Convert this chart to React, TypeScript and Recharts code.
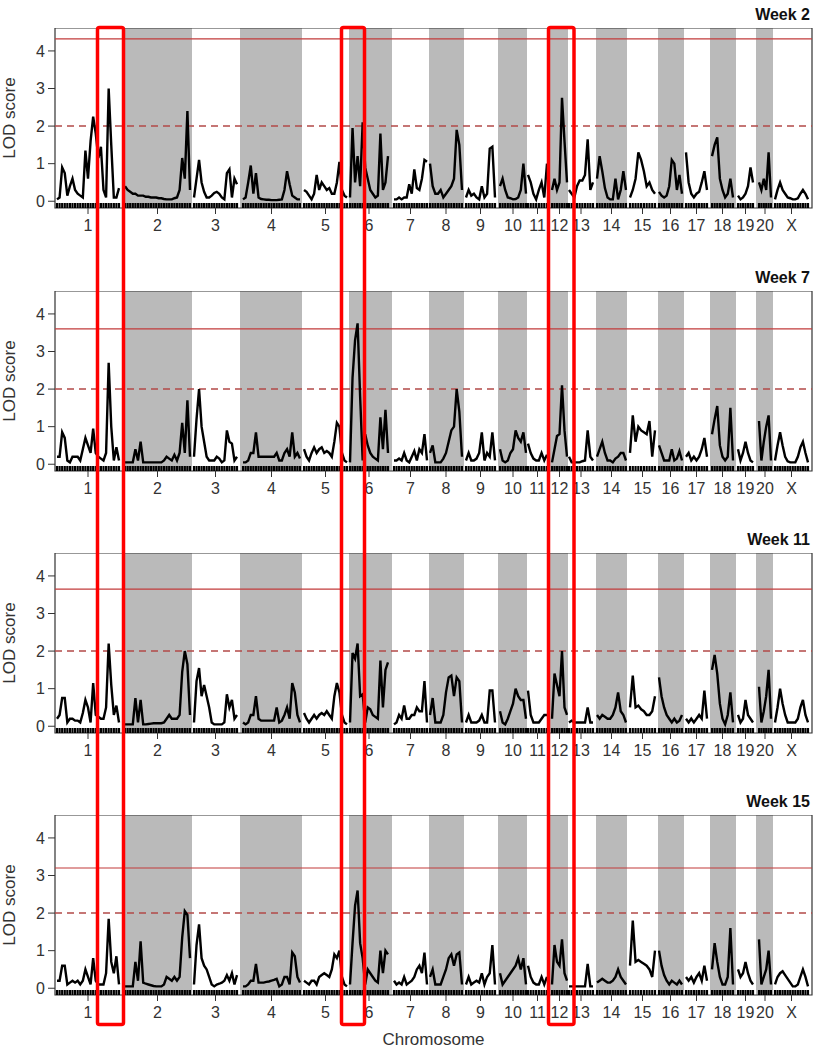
import { ComposedChart, Line, Scatter, XAxis, YAxis, ReferenceArea, ReferenceLine } from 'recharts';

// chromosome layout, in genome units (1 unit = 1 px of plot width)
const chromLabels = ['1', '2', '3', '4', '5', '6', '7', '8', '9', '10', '11', '12', '13', '14', '15', '16', '17', '18', '19', '20', 'X'];
const bandEdges = [0, 70, 137, 185, 247, 294, 337, 374, 409, 443, 472, 493, 513, 541, 572, 603, 629, 655, 681, 701, 718, 757];
const curveStart = [2, 70, 139, 188, 249, 295, 339, 375, 411, 445, 473, 497, 514, 542, 575, 604, 631, 657, 683, 704, 720];
const curveEnd = [64, 135, 182, 245, 292, 333, 372, 407, 440, 471, 492, 512, 538, 571, 600, 627, 652, 678, 698, 716, 753];

const weekTitles = ['Week 2', 'Week 7', 'Week 11', 'Week 15'];
const sigThreshold = [4.32, 3.6, 3.65, 3.2];
const suggestiveThreshold = 2;

// regions boxed in red across all panels
const highlightStart = [42.5, 286.5, 493.5];
const highlightEnd = [68.5, 309.5, 519];

// LOD scores per chromosome, evenly spaced pseudomarkers
const lodWeek2 = [
  [0.05, 0.1, 0.9, 0.75, 0.15, 0.4, 0.6, 0.3, 0.2, 0.15, 0.1, 1.35, 0.6, 1.6, 2.25, 1.8, 1.15, 1.45, 0.3, 0.1, 3.0, 1.5, 0.1, 0.1, 0.35],
  [0.4, 0.3, 0.25, 0.2, 0.2, 0.15, 0.15, 0.15, 0.12, 0.12, 0.1, 0.1, 0.1, 0.08, 0.08, 0.06, 0.05, 0.05, 0.05, 0.08, 0.1, 0.3, 1.15, 0.6, 2.4, 0.3],
  [0.1, 0.6, 1.1, 0.5, 0.25, 0.1, 0.1, 0.15, 0.22, 0.25, 0.2, 0.1, 0.05, 0.75, 0.85, 0.1, 0.6, 0.45],
  [0.05, 0.1, 0.5, 0.95, 0.2, 0.75, 0.1, 0.06, 0.05, 0.04, 0.04, 0.03, 0.03, 0.03, 0.04, 0.05, 0.3, 0.8, 0.45, 0.15, 0.1, 0.05, 0.05],
  [0.3, 0.25, 0.15, 0.05, 0.2, 0.7, 0.3, 0.5, 0.4, 0.3, 0.35, 0.2, 0.2, 0.5, 1.05, 0.3, 0.15, 0.1],
  [0.1, 1.95, 0.5, 1.2, 0.4, 2.1, 0.9, 0.6, 0.3, 0.2, 0.1, 0.15, 1.8, 0.3, 0.5, 1.2],
  [0.05, 0.05, 0.1, 0.05, 0.1, 0.1, 0.45, 0.2, 0.85, 0.35, 0.3, 0.6, 1.1, 1.05],
  [1.0, 0.4, 0.2, 0.2, 0.3, 0.1, 0.2, 0.3, 0.4, 0.6, 1.9, 1.5, 0.3],
  [0.1, 0.3, 0.15, 0.2, 0.1, 0.05, 0.4, 0.1, 0.2, 1.4, 1.45, 0.1],
  [0.4, 0.6, 0.3, 0.1, 0.08, 0.05, 0.06, 0.1, 0.3, 1.0, 0.2],
  [0.7, 0.5, 0.2, 0.05, 0.3, 0.5, 0.1, 1.0],
  [0.3, 0.6, 0.3, 0.5, 2.75, 1.6, 0.5],
  [0.3, 0.2, 0.1, 0.4, 0.55, 0.55, 0.7, 1.65, 0.3, 0.5],
  [0.6, 1.2, 0.8, 0.35, 0.1, 0.05, 0.05, 0.6, 0.05, 0.3, 0.8, 0.3],
  [0.1, 0.3, 0.6, 1.3, 1.1, 0.8, 0.4, 0.5, 0.3, 0.2],
  [0.25, 0.15, 0.1, 0.15, 0.4, 1.1, 1.0, 0.3, 0.7, 0.2],
  [1.3, 0.5, 0.2, 0.1, 0.2, 0.25, 0.5, 0.8, 0.3],
  [1.2, 1.5, 1.7, 0.6, 0.3, 0.1, 0.2, 0.6, 0.1],
  [0.15, 0.05, 0.1, 0.2, 0.4, 0.9, 0.5],
  [0.5, 0.3, 0.6, 0.3, 1.3, 0.1],
  [0.05, 0.3, 0.5, 0.3, 0.2, 0.1, 0.08, 0.05, 0.05, 0.08, 0.2, 0.3, 0.2, 0.05],
];

const lodWeek7 = [
  [0.2, 0.2, 0.85, 0.7, 0.1, 0.05, 0.2, 0.2, 0.2, 0.1, 0.4, 0.7, 0.5, 0.3, 0.95, 0.3, 0.2, 0.15, 0.1, 0.3, 2.7, 1.0, 0.1, 0.45, 0.1],
  [0.05, 0.05, 0.05, 0.05, 0.4, 0.1, 0.6, 0.05, 0.05, 0.05, 0.05, 0.05, 0.05, 0.05, 0.05, 0.1, 0.2, 0.15, 0.1, 0.25, 0.1, 0.3, 1.1, 0.3, 1.7, 0.2],
  [0.2, 1.2, 2.0, 1.0, 0.6, 0.2, 0.1, 0.1, 0.1, 0.2, 0.15, 0.05, 0.1, 0.9, 0.6, 0.55, 0.1, 0.2],
  [0.05, 0.05, 0.1, 0.3, 0.3, 0.85, 0.2, 0.2, 0.2, 0.2, 0.2, 0.2, 0.2, 0.3, 0.1, 0.1, 0.3, 0.4, 0.2, 0.85, 0.2, 0.3, 0.15],
  [0.4, 0.2, 0.1, 0.3, 0.45, 0.3, 0.4, 0.45, 0.3, 0.35, 0.3, 0.2, 0.6, 1.1, 1.0, 0.3, 0.1, 0.05],
  [0.05, 2.3, 3.3, 3.75, 1.8, 0.1, 0.8, 0.5, 0.3, 0.2, 0.15, 0.1, 1.25, 0.4, 1.45, 0.3],
  [0.1, 0.1, 0.15, 0.1, 0.3, 0.1, 0.05, 0.2, 0.35, 0.1, 0.4, 0.3, 0.8, 0.1],
  [0.3, 0.5, 0.05, 0.05, 0.05, 0.15, 0.3, 0.6, 0.9, 1.0, 2.0, 1.4, 0.2],
  [0.1, 0.3, 0.1, 0.1, 0.15, 0.3, 0.85, 0.1, 0.3, 0.2, 0.85, 0.1],
  [0.4, 0.1, 0.05, 0.1, 0.3, 0.4, 0.9, 0.7, 0.6, 0.85, 0.3],
  [0.55, 0.3, 0.15, 0.1, 0.1, 0.3, 0.1, 0.25],
  [0.05, 0.4, 0.75, 0.8, 2.1, 0.9, 0.2],
  [0.2, 0.05, 0.05, 0.05, 0.05, 0.08, 0.1, 0.9, 0.2, 0.1],
  [0.2, 0.4, 0.6, 0.3, 0.1, 0.1, 0.05, 0.15, 0.2, 0.3, 0.3, 0.1],
  [0.3, 1.3, 0.6, 1.0, 0.9, 0.85, 0.8, 1.15, 0.2, 0.9],
  [0.5, 0.3, 0.1, 0.1, 0.1, 0.4, 0.1, 0.15, 0.35, 0.1],
  [0.2, 0.3, 0.1, 0.2, 0.1, 0.2, 0.4, 0.7, 0.2],
  [0.8, 1.2, 1.55, 0.5, 0.2, 0.1, 0.2, 1.5, 0.1],
  [0.4, 0.1, 0.3, 0.6, 0.3, 0.1, 0.05],
  [1.15, 0.1, 0.6, 1.0, 1.3, 0.1],
  [0.1, 0.5, 0.85, 0.5, 0.2, 0.08, 0.05, 0.05, 0.05, 0.2, 0.45, 0.6, 0.3, 0.05],
];

const lodWeek11 = [
  [0.2, 0.3, 0.75, 0.75, 0.1, 0.2, 0.2, 0.15, 0.15, 0.1, 0.35, 0.7, 0.5, 0.1, 1.15, 0.3, 0.25, 0.2, 0.2, 0.5, 2.2, 1.1, 0.3, 0.55, 0.1],
  [0.05, 0.05, 0.05, 0.05, 0.75, 0.1, 0.7, 0.05, 0.05, 0.06, 0.07, 0.08, 0.08, 0.08, 0.08, 0.1, 0.2, 0.3, 0.2, 0.2, 0.2, 0.3, 1.45, 2.0, 1.65, 0.3],
  [0.1, 1.2, 1.55, 0.8, 1.1, 0.8, 0.5, 0.1, 0.05, 0.05, 0.05, 0.05, 0.1, 0.85, 0.5, 0.7, 0.2, 0.3],
  [0.1, 0.05, 0.1, 0.3, 0.3, 0.8, 0.2, 0.15, 0.15, 0.15, 0.15, 0.15, 0.15, 0.5, 0.1, 0.15, 0.3, 0.5, 0.2, 1.15, 0.9, 0.3, 0.1],
  [0.35, 0.2, 0.1, 0.2, 0.3, 0.2, 0.3, 0.35, 0.3, 0.4, 0.3, 0.2, 0.8, 1.15, 0.9, 0.3, 0.1, 0.05],
  [0.1, 1.95, 1.8, 2.2, 0.8, 0.85, 0.1, 0.5, 0.45, 0.3, 0.25, 0.2, 1.75, 0.5, 1.5, 1.7],
  [0.05, 0.1, 0.3, 0.2, 0.55, 0.2, 0.2, 0.3, 0.3, 0.5, 0.4, 0.4, 1.2, 0.1],
  [0.3, 0.75, 0.1, 0.1, 0.1, 0.3, 0.9, 1.3, 1.35, 0.8, 1.3, 1.2, 0.1],
  [0.1, 0.3, 0.1, 0.1, 0.1, 0.15, 0.3, 0.1, 0.1, 0.95, 0.95, 0.1],
  [0.4, 0.1, 0.05, 0.2, 0.4, 0.6, 1.0, 0.8, 0.7, 0.7, 0.2],
  [0.95, 0.3, 0.1, 0.1, 0.1, 0.2, 0.3, 0.3],
  [0.2, 1.4, 1.1, 0.8, 2.0, 0.5, 0.3],
  [0.1, 0.15, 0.1, 0.1, 0.1, 0.1, 0.1, 0.5, 0.1, 0.1],
  [0.3, 0.2, 0.3, 0.25, 0.2, 0.2, 0.3, 0.5, 0.9, 0.4, 0.3, 0.1],
  [0.5, 1.35, 0.5, 0.55, 0.45, 0.4, 0.3, 0.3, 0.4, 0.8],
  [1.3, 0.8, 0.5, 0.3, 0.2, 0.1, 0.2, 0.1, 0.15, 0.3],
  [0.2, 0.1, 0.2, 0.1, 0.2, 0.3, 0.2, 0.95, 0.2],
  [1.5, 1.9, 1.4, 0.6, 0.2, 0.05, 0.3, 0.9, 0.1],
  [0.3, 0.1, 0.2, 0.7, 0.3, 0.2, 0.1],
  [1.05, 0.1, 0.4, 0.8, 1.5, 0.2],
  [0.1, 0.5, 1.0, 0.6, 0.3, 0.1, 0.1, 0.1, 0.1, 0.2, 0.5, 0.7, 0.3, 0.1],
];

const lodWeek15 = [
  [0.2, 0.2, 0.6, 0.6, 0.1, 0.15, 0.2, 0.15, 0.2, 0.1, 0.2, 0.5, 0.3, 0.1, 0.8, 0.2, 0.1, 0.1, 0.1, 0.4, 1.85, 0.7, 0.4, 0.85, 0.1],
  [0.05, 0.05, 0.05, 0.05, 0.7, 0.2, 1.25, 0.15, 0.12, 0.1, 0.08, 0.06, 0.05, 0.05, 0.05, 0.1, 0.3, 0.25, 0.2, 0.3, 0.2, 0.3, 1.35, 2.05, 1.95, 0.8],
  [0.1, 1.15, 1.7, 0.8, 0.6, 0.5, 0.3, 0.1, 0.05, 0.1, 0.12, 0.15, 0.2, 0.35, 0.2, 0.4, 0.1, 0.35],
  [0.05, 0.05, 0.1, 0.2, 0.2, 0.65, 0.15, 0.15, 0.15, 0.17, 0.18, 0.2, 0.22, 0.25, 0.05, 0.1, 0.3, 0.3, 0.1, 0.95, 0.85, 0.3, 0.15],
  [0.2, 0.15, 0.1, 0.2, 0.2, 0.1, 0.3, 0.35, 0.4, 0.35, 0.3, 0.5, 0.9, 0.8, 1.0, 0.3, 0.1, 0.05],
  [0.1, 1.2, 2.2, 2.6, 1.2, 0.8, 0.1, 0.5, 0.4, 0.3, 0.2, 0.15, 1.0, 0.4, 1.0, 0.9],
  [0.2, 0.1, 0.15, 0.1, 0.3, 0.1, 0.15, 0.2, 0.3, 0.5, 0.6, 0.4, 0.95, 0.1],
  [0.3, 0.5, 0.1, 0.1, 0.1, 0.3, 0.5, 0.8, 0.9, 0.6, 0.9, 0.95, 0.1],
  [0.1, 0.3, 0.1, 0.15, 0.2, 0.15, 0.4, 0.1, 0.3, 0.4, 1.15, 0.1],
  [0.4, 0.1, 0.2, 0.3, 0.4, 0.5, 0.6, 0.8, 0.5, 0.8, 0.1],
  [0.6, 0.3, 0.15, 0.1, 0.1, 0.3, 0.1, 0.3],
  [0.1, 1.15, 0.7, 0.6, 1.3, 0.4, 0.2],
  [0.05, 0.05, 0.05, 0.05, 0.05, 0.05, 0.05, 0.65, 0.05, 0.05],
  [0.15, 0.2, 0.25, 0.2, 0.15, 0.15, 0.2, 0.3, 0.5, 0.3, 0.2, 0.1],
  [0.6, 1.8, 0.7, 0.75, 0.7, 0.65, 0.6, 0.5, 0.3, 1.0],
  [1.0, 0.6, 0.35, 0.2, 0.1, 0.2, 0.15, 0.1, 0.2, 0.1],
  [0.3, 0.2, 0.3, 0.15, 0.3, 0.4, 0.2, 0.6, 0.2],
  [0.5, 1.2, 0.7, 0.3, 0.1, 0.1, 0.3, 1.6, 0.1],
  [0.5, 0.3, 0.4, 0.7, 0.4, 0.2, 0.1],
  [1.3, 0.1, 0.3, 0.5, 1.0, 0.1],
  [0.1, 0.3, 0.4, 0.45, 0.35, 0.25, 0.15, 0.05, 0.05, 0.1, 0.3, 0.5, 0.3, 0.05],
];

const panels = [lodWeek2, lodWeek7, lodWeek11, lodWeek15];

const panelTops = [28, 291, 553, 815];
const PLOT_LEFT = 55;
const PLOT_W = 757;
const PLOT_H = 180;
const CHART_H = 262;
const X_MAX = 757;
const Y_MIN = -0.18;
const Y_MAX = 4.61;
const FONT = '"Liberation Sans", Arial, sans-serif';

const chromTicks = curveStart.map((s, i) => (s + curveEnd[i]) / 2);

type Row = { pos: number; lod: number | null };

function buildRows(lod: number[][]): Row[] {
  const rows: Row[] = [];
  lod.forEach((vals, c) => {
    const step = (curveEnd[c] - curveStart[c]) / (vals.length - 1);
    vals.forEach((v, i) => rows.push({ pos: curveStart[c] + i * step, lod: v }));
    // break the line between chromosomes
    if (c < lod.length - 1) rows.push({ pos: (curveEnd[c] + curveStart[c + 1]) / 2, lod: null });
  });
  return rows;
}

function RugTick(props: any) {
  const { cx, cy } = props;
  return <line x1={cx} x2={cx} y1={cy} y2={cy - 5} stroke="#000" strokeWidth={2.2} />;
}

function Panel({ lod, index }: { lod: number[][]; index: number }) {
  const rows = buildRows(lod);
  const rug = rows.filter((r) => r.lod !== null).map((r) => ({ pos: r.pos, rug: Y_MIN }));
  const top = panelTops[index];
  return (
    <>
      <div
        style={{
          position: 'absolute', top: top - 22, right: 10, height: 18, lineHeight: '18px',
          fontSize: 16, fontWeight: 'bold', color: '#111',
        }}
      >
        {weekTitles[index]}
      </div>
      <div
        style={{
          position: 'absolute', left: 10, top: top + PLOT_H / 2, fontSize: 17, color: '#333',
          transform: 'translate(-50%, -50%) rotate(-90deg)', whiteSpace: 'nowrap',
        }}
      >
        LOD score
      </div>
      <div style={{ position: 'absolute', top, left: 0 }}>
        <ComposedChart width={820} height={CHART_H} data={rows} margin={{ top: 0, right: 8, bottom: 0, left: 0 }}>
          <XAxis
            type="number"
            dataKey="pos"
            domain={[0, X_MAX]}
            ticks={chromTicks}
            interval={0}
            tickFormatter={(v: number) => chromLabels[chromTicks.indexOf(v)] ?? ''}
            allowDataOverflow
            axisLine={false}
            tickLine={{ stroke: '#333' }}
            tickSize={6}
            tickMargin={6}
            height={CHART_H - PLOT_H}
            tick={{ fontSize: 16, fill: '#333' }}
          />
          <YAxis
            type="number"
            domain={[Y_MIN, Y_MAX]}
            ticks={[0, 1, 2, 3, 4]}
            allowDataOverflow
            axisLine={false}
            tickLine={{ stroke: '#333' }}
            tickSize={7}
            tickMargin={3}
            width={PLOT_LEFT}
            tick={{ fontSize: 16, fill: '#333' }}
          />
          {chromLabels.map((c, i) =>
            i % 2 === 1 ? (
              <ReferenceArea
                key={c}
                x1={bandEdges[i]}
                x2={bandEdges[i + 1]}
                y1={Y_MIN}
                y2={Y_MAX}
                fill="#bababa"
                fillOpacity={1}
                stroke="none"
              />
            ) : null,
          )}
          <ReferenceLine y={sigThreshold[index]} stroke="#c23b3b" strokeWidth={1.2} />
          <ReferenceLine y={suggestiveThreshold} stroke="#b34a48" strokeWidth={1.5} strokeDasharray="7 5" />
          <Scatter data={rug} dataKey="rug" shape={RugTick} isAnimationActive={false} />
          <Line
            type="linear"
            dataKey="lod"
            stroke="#000"
            strokeWidth={2.4}
            strokeLinejoin="miter"
            dot={false}
            connectNulls={false}
            isAnimationActive={false}
          />
          <ReferenceArea x1={0} x2={X_MAX} y1={Y_MIN} y2={Y_MAX} fill="none" stroke="#333" strokeWidth={1.2} />
        </ComposedChart>
      </div>
    </>
  );
}

export default function App() {
  const toPx = (u: number) => PLOT_LEFT + (u / X_MAX) * PLOT_W;
  return (
    <div
      style={{
        position: 'absolute', left: 0, top: 0, width: 820, height: 1050,
        background: '#fff', fontFamily: FONT, overflow: 'hidden',
      }}
    >
      {panels.map((lod, i) => (
        <Panel key={weekTitles[i]} lod={lod} index={i} />
      ))}
      <div
        style={{
          position: 'absolute', top: 1030, left: PLOT_LEFT, width: PLOT_W, textAlign: 'center',
          fontSize: 17, color: '#333',
        }}
      >
        Chromosome
      </div>
      <svg width={820} height={1050} style={{ position: 'absolute', left: 0, top: 0, pointerEvents: 'none' }}>
        {highlightStart.map((s, i) => (
          <rect
            key={i}
            x={toPx(s)}
            y={27.5}
            width={toPx(highlightEnd[i]) - toPx(s)}
            height={997}
            rx={2}
            fill="none"
            stroke="#ff0000"
            strokeWidth={3.5}
          />
        ))}
      </svg>
    </div>
  );
}
